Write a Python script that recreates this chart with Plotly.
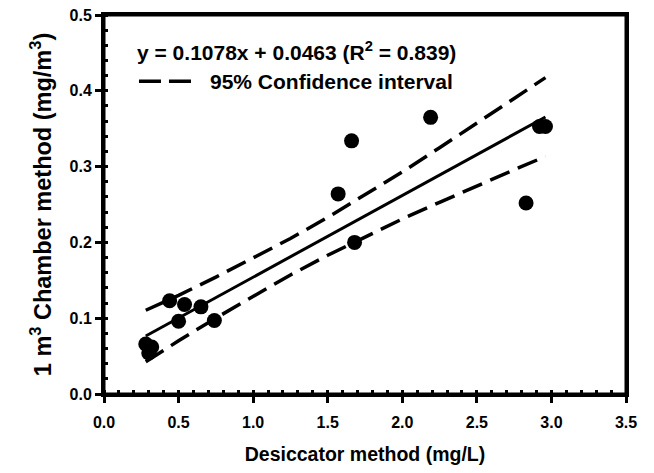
import plotly.graph_objects as go

# measured points (desiccator mg/L vs chamber mg/m3)
desiccator = [0.28, 0.32, 0.30, 0.44, 0.54, 0.65, 0.50, 0.74,
              1.57, 1.66, 1.68, 2.19, 2.83, 2.92, 2.96]
chamber = [0.066, 0.062, 0.054, 0.123, 0.118, 0.115, 0.096, 0.097,
           0.264, 0.334, 0.200, 0.365, 0.252, 0.353, 0.353]

# regression line y = 0.1078x + 0.0463
fit_x = [0.28, 2.96]
fit_y = [0.0765, 0.3654]

# 95% confidence band
ci_x = [0.28, 0.5, 0.75, 1.0, 1.25, 1.5, 1.75, 2.0, 2.25, 2.5, 2.75, 2.96]
ci_upper = [0.1105, 0.1302, 0.1542, 0.1791, 0.2051, 0.233, 0.2625,
            0.2929, 0.3249, 0.3568, 0.3898, 0.4174]
ci_lower = [0.0425, 0.0702, 0.1002, 0.1291, 0.1571, 0.183, 0.2075,
            0.2309, 0.2529, 0.2748, 0.2958, 0.3134]

FONT = "Arial, Liberation Sans, sans-serif"
dash = "21px,9px"

fig = go.Figure()
for band in (ci_upper, ci_lower):
    fig.add_trace(go.Scatter(x=ci_x, y=band, mode="lines",
                             line=dict(color="black", width=3.5, dash=dash),
                             showlegend=False, hoverinfo="skip"))
fig.add_trace(go.Scatter(x=fit_x, y=fit_y, mode="lines",
                         line=dict(color="black", width=3),
                         showlegend=False))
fig.add_trace(go.Scatter(x=desiccator, y=chamber, mode="markers",
                         marker=dict(color="black", size=15),
                         showlegend=False))

# equation text and legend entry for the dashed band
fig.add_annotation(x=0.06, y=0.905, xref="paper", yref="paper",
                   xanchor="left", yanchor="middle", showarrow=False,
                   text="<b>y = 0.1078x + 0.0463 (R<sup>2</sup> = 0.839)</b>",
                   font=dict(family=FONT, size=21, color="black"))
fig.add_shape(type="line", xref="paper", yref="paper",
              x0=0.067, x1=0.169, y0=0.825, y1=0.825,
              line=dict(color="black", width=3.5, dash="22px,8px"))
fig.add_annotation(x=0.2, y=0.825, xref="paper", yref="paper",
                   xanchor="left", yanchor="middle", showarrow=False,
                   text="<b>95% Confidence interval</b>",
                   font=dict(family=FONT, size=21, color="black"))

# full frame round the plot area
fig.add_shape(type="rect", xref="paper", yref="paper",
              x0=0, x1=1, y0=0, y1=1, layer="above",
              line=dict(color="black", width=3))

axis_common = dict(
    showline=True, linecolor="black", linewidth=3, mirror=True,
    showgrid=False, zeroline=False, automargin=False,
    ticks="outside", ticklen=6, tickwidth=2.5, tickcolor="black",
    tickformat=".1f", ticklabeloverflow="allow",
    tickfont=dict(family=FONT, size=16, color="black", weight="bold"),
)

fig.update_xaxes(range=[0, 3.5], dtick=0.5, ticklabelstandoff=6,
                 minor=dict(dtick=0.1, ticks="inside", ticklen=4,
                            tickwidth=2.5, tickcolor="black"),
                 title=dict(text="<b>Desiccator method (mg/L)</b>",
                            font=dict(family=FONT, size=19.5, color="black"),
                            standoff=18),
                 **axis_common)
fig.update_yaxes(range=[0, 0.5], dtick=0.1,
                 minor=dict(dtick=0.02, ticks="inside", ticklen=4,
                            tickwidth=2.5, tickcolor="black"),
                 title=dict(text="<b>1 m<sup>3</sup> Chamber method (mg/m<sup>3</sup>)</b>",
                            font=dict(family=FONT, size=23.5, color="black"),
                            standoff=12),
                 **axis_common)

fig.update_layout(width=654, height=473,
                  margin=dict(l=104, r=28, t=15, b=79),
                  paper_bgcolor="white", plot_bgcolor="white",
                  font=dict(family=FONT, color="black"))

# drop the default 8px page margin so the figure fills the window
fig.write_html("out.html", config={"displayModeBar": False},
               post_script="document.body.style.margin = '0px';")
